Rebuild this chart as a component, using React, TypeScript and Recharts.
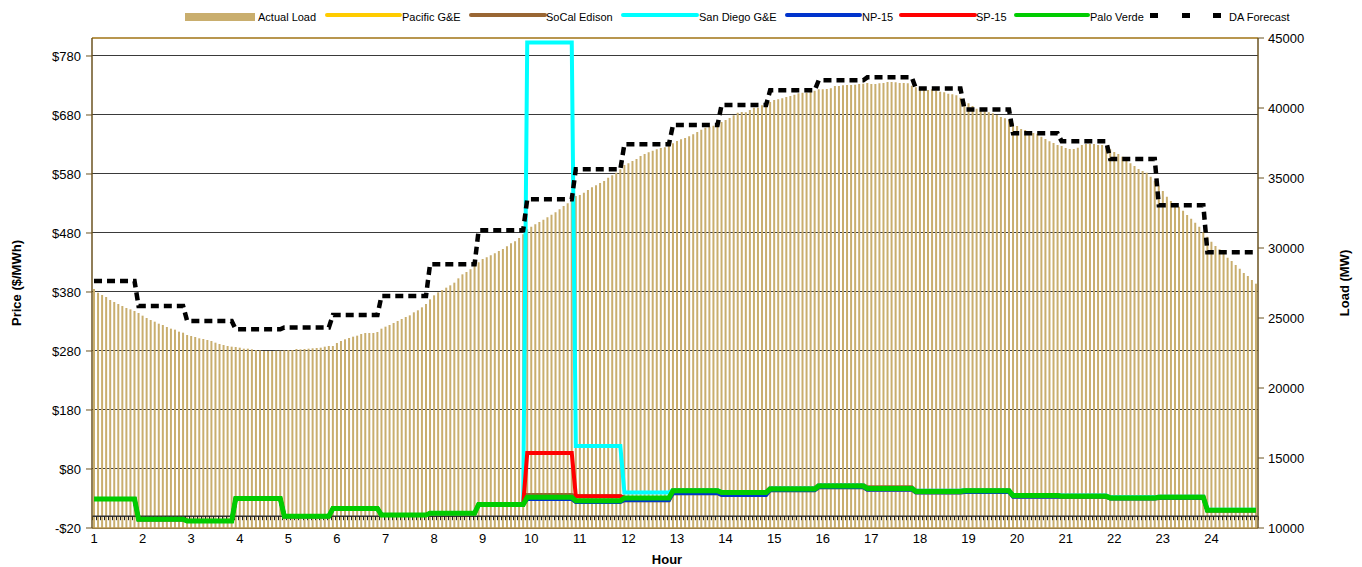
import React from 'react';
import { ComposedChart, Bar, Line, XAxis, YAxis, CartesianGrid, ReferenceLine } from 'recharts';

// hour labels on the category axis (one label every 12 five-minute intervals)
const hours = [1, 2, 3, 4, 5, 6, 7, 8, 9, 10, 11, 12, 13, 14, 15, 16, 17, 18, 19, 20, 21, 22, 23, 24];

// 5-minute actual load (MW), 288 intervals
const actualLoad = [
  27071, 26809, 26643, 26500, 26286, 26143, 26000, 25857, 25714, 25619, 25500, 25357,
  25167, 25000, 24857, 24738, 24595, 24500, 24357, 24238, 24167, 24024, 23952, 23786,
  23714, 23643, 23548, 23500, 23429, 23357, 23238, 23143, 23071, 23000, 22952, 22929,
  22881, 22809, 22809, 22762, 22714, 22690, 22643, 22643, 22643, 22667, 22667, 22690,
  22714, 22714, 22786, 22762, 22786, 22809, 22833, 22857, 22881, 22952, 23000, 23000,
  23214,
  23357, 23476, 23571, 23667, 23738, 23857, 23929, 23929, 23929, 24000, 24238, 24381,
  24500, 24643, 24786, 24929, 25071, 25190, 25405, 25548, 25762, 26000, 26333, 26619,
  26833, 27000, 27167, 27333, 27524, 27833, 28119, 28286, 28476, 28714, 28976, 29214,
  29333, 29476, 29619, 29786, 29929, 30119, 30333, 30476, 30714, 30976, 31333, 31524,
  31690, 31857, 32024, 32190, 32381, 32548, 32762, 33000, 33190, 33452, 33714,
  33786, 33952, 34143, 34333, 34476, 34643, 34786, 35024, 35190, 35381, 35619, 35929,
  36048, 36214, 36357, 36571, 36714, 36833, 36952, 37048, 37143, 37190, 37286, 37476,
  37643, 37762, 37857, 37976, 38119, 38286, 38452, 38595, 38667, 38738, 38833, 39000,
  39143, 39286, 39476, 39667, 39714, 39690, 39857, 40024, 40024, 40190, 40333, 40429,
  40571, 40619, 40690, 40786, 40857, 40952, 41048, 41095, 41095, 41167, 41238,
  41333, 41333, 41357, 41405, 41571, 41571, 41619, 41643, 41643, 41667, 41714, 41738,
  41786, 41714, 41714, 41762, 41786, 41857, 41857, 41833, 41786, 41786, 41762, 41595,
  41476, 41429, 41333, 41286, 41333, 41238, 41167, 41119, 41024, 40976, 40905, 40738,
  40429, 40333, 40143, 39952, 39810, 39762, 39690, 39619, 39500, 39357, 39262, 39143,
  38905, 38714, 38500, 38429, 38333, 38214, 38167, 37952, 37786, 37619, 37500, 37357,
  37286, 37143, 37071, 37071, 37167, 37357, 37429, 37429, 37429, 37357, 37357, 37238,
  37048, 36857, 36714, 36524, 36310, 36048, 35857, 35643, 35500, 35381, 35095, 34810,
  34429, 34071, 33667, 33357, 33190, 32952, 32667, 32357, 32095, 31810, 31524, 31143,
  30810, 30452, 30143, 29905, 29595, 29310, 29071, 28786, 28524, 28214, 28000, 27714,
  27452,
];

// hourly values
const daForecast = [27640, 25860, 24790, 24190, 24330, 25210, 26570, 28840, 31260, 33480, 35620, 37410,
  38780, 40210, 41260, 41980, 42190, 41400, 39900, 38190, 37620, 36360, 33050, 29700];
const pacificGE = [29, -5, -8, 30, 0, 13, 2, 5, 20, 29, 24, 27, 39, 36, 44, 49, 45, 40, 41, 33, 33, 30, 31, 10];
const socalEdison = [29, -5, -8, 30, 0, 13, 2, 5, 20, 36, 34, 31, 44, 41, 48, 53, 49, 43, 44, 36, 35, 32, 33, 10];
const sanDiegoGE = [29, -5, -8, 30, 0, 13, 2, 5, 20, 803, 119, 40, 44, 41, 47, 52, 48, 43, 44, 36, 35, 32, 33, 11];
const np15 = [29, -5, -8, 30, 0, 13, 2, 5, 20, 29, 24, 27, 39, 36, 44, 49, 45, 40, 41, 33, 33, 30, 31, 10];
const sp15 = [29, -5, -8, 30, 0, 13, 2, 5, 20, 107, 34, 31, 43, 40, 46, 51, 47, 42, 43, 35, 34, 31, 32, 10];
const paloVerde = [29, -5, -8, 30, 0, 13, 2, 5, 20, 32, 26, 31, 43, 40, 46, 51, 47, 42, 43, 35, 34, 31, 32, 10];

const priceTicks = [-20, 80, 180, 280, 380, 480, 580, 680, 780];
const loadTicks = [10000, 15000, 20000, 25000, 30000, 35000, 40000, 45000];

const hourOf = (i: number) => Math.min(23, Math.floor((i + 1) / 12));

const data = actualLoad.map((load, i) => {
  const h = hourOf(i);
  return {
    i,
    load,
    pge: pacificGE[h],
    sce: socalEdison[h],
    sdge: sanDiegoGE[h],
    np15: np15[h],
    sp15: sp15[h],
    pv: paloVerde[h],
    da: daForecast[h],
  };
});

const FONT = '"Liberation Sans", Arial, sans-serif';
const AXIS = '#6B5320';
const BORDER = '#B8964F';
const BAR = '#C9AE6E';

const legendLines = [
  { name: 'Pacific G&E', color: '#FFCC00', x1: 327, x2: 400, tx: 402 },
  { name: 'SoCal Edison', color: '#996633', x1: 471, x2: 545, tx: 546 },
  { name: 'San Diego G&E', color: '#00FFFF', x1: 623, x2: 697, tx: 699 },
  { name: 'NP-15', color: '#0033CC', x1: 787, x2: 860, tx: 862 },
  { name: 'SP-15', color: '#FF0000', x1: 901, x2: 975, tx: 976 },
  { name: 'Palo Verde', color: '#00CC00', x1: 1016, x2: 1088, tx: 1090 },
];

const ZeroAxis = (props: any) => {
  const { x1, y1, x2 } = props;
  const n = actualLoad.length;
  const step = (x2 - x1) / n;
  const marks = [];
  for (let k = 0; k <= n; k++) {
    const x = Math.round(x1 + k * step) + 0.5;
    marks.push(<line key={k} x1={x} x2={x} y1={y1} y2={y1 + 4} stroke="#222" strokeWidth={1} />);
  }
  return (
    <g>
      <line x1={x1} y1={y1} x2={x2} y2={y1} stroke="#333" strokeWidth={1.5} />
      {marks}
    </g>
  );
};

export default function App() {
  return (
    <div style={{ position: 'absolute', left: 0, top: 0, width: 1362, height: 567, background: '#fff', fontFamily: FONT }}>
      <ComposedChart
        width={1362}
        height={567}
        data={data}
        margin={{ top: 38, right: 0, bottom: 0, left: 0 }}
        barSize={2}
      >
        <CartesianGrid yAxisId="price" vertical={false} stroke="#3a3a3a" strokeWidth={1} shapeRendering="crispEdges" />
        <XAxis
          dataKey="i"
          type="category"
          interval={11}
          height={39}
          tickLine={false}
          tickSize={0}
          tickMargin={6}
          axisLine={{ stroke: BORDER, strokeWidth: 1.5 }}
          tick={{ fill: '#000', fontSize: 13 }}
          tickFormatter={(v: number) => String(hours[Math.floor(v / 12)])}
        />
        <YAxis
          yAxisId="price"
          orientation="left"
          width={92}
          domain={[-20, 810.5]}
          ticks={priceTicks}
          allowDataOverflow
          tickSize={6}
          tickMargin={5}
          axisLine={{ stroke: AXIS, strokeWidth: 1.5 }}
          tickLine={{ stroke: AXIS }}
          tick={{ fill: '#000', fontSize: 13 }}
          tickFormatter={(v: number) => (v < 0 ? `-$${-v}` : `$${v}`)}
        />
        <YAxis
          yAxisId="load"
          orientation="right"
          width={104}
          domain={[10000, 45000]}
          ticks={loadTicks}
          allowDataOverflow
          tickSize={6}
          tickMargin={4}
          axisLine={{ stroke: AXIS, strokeWidth: 1.5 }}
          tickLine={{ stroke: AXIS }}
          tick={{ fill: '#000', fontSize: 13 }}
        />
        <Bar yAxisId="load" dataKey="load" fill={BAR} isAnimationActive={false} />
        <ReferenceLine yAxisId="price" y={0} shape={ZeroAxis} />
        <ReferenceLine yAxisId="load" y={45000} stroke={BORDER} strokeWidth={2} />
        <Line yAxisId="price" type="linear" dataKey="pge" stroke="#FFCC00" strokeWidth={4} dot={false} isAnimationActive={false} />
        <Line yAxisId="price" type="linear" dataKey="sce" stroke="#996633" strokeWidth={4} dot={false} isAnimationActive={false} />
        <Line yAxisId="price" type="linear" dataKey="sdge" stroke="#00FFFF" strokeWidth={4} dot={false} isAnimationActive={false} />
        <Line yAxisId="price" type="linear" dataKey="np15" stroke="#0033CC" strokeWidth={4} dot={false} isAnimationActive={false} />
        <Line yAxisId="price" type="linear" dataKey="sp15" stroke="#FF0000" strokeWidth={4} dot={false} isAnimationActive={false} />
        <Line yAxisId="price" type="linear" dataKey="pv" stroke="#00CC00" strokeWidth={5} dot={false} isAnimationActive={false} />
        <Line yAxisId="load" type="linear" dataKey="da" stroke="#000" strokeWidth={4.5} strokeDasharray="8 5" dot={false} isAnimationActive={false} />
      </ComposedChart>

      <svg width={1362} height={567} style={{ position: 'absolute', left: 0, top: 0, pointerEvents: 'none' }}>
        <g fontSize={11} fill="#000">
          <rect x={185} y={13} width={70} height={8} fill={BAR} />
          <text x={258} y={21}>Actual Load</text>
          {legendLines.map((l) => (
            <g key={l.name}>
              <line x1={l.x1} x2={l.x2} y1={15} y2={15} stroke={l.color} strokeWidth={4} strokeLinecap="round" />
              <text x={l.tx} y={21}>{l.name}</text>
            </g>
          ))}
          <rect x={1150} y={13} width={8} height={5} fill="#000" />
          <rect x={1182} y={13} width={8} height={5} fill="#000" />
          <rect x={1213} y={13} width={8} height={5} fill="#000" />
          <text x={1229} y={21}>DA Forecast</text>
        </g>
        <g fontSize={13} fontWeight="bold" fill="#000">
          <text transform="translate(21,283) rotate(-90)" textAnchor="middle">Price ($/MWh)</text>
          <text transform="translate(1349,283) rotate(-90)" textAnchor="middle">Load (MW)</text>
          <text x={667} y={564} textAnchor="middle">Hour</text>
        </g>
      </svg>
    </div>
  );
}
